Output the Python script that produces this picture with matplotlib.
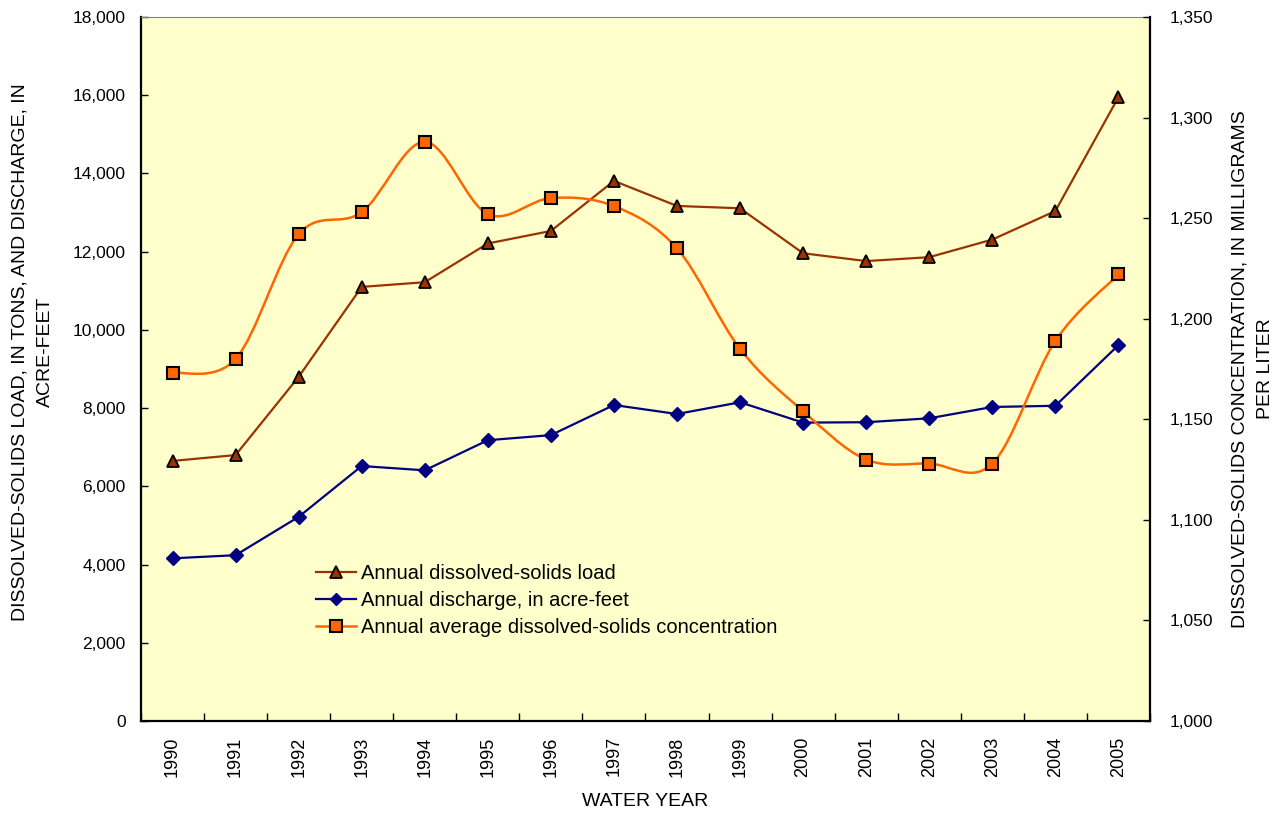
import numpy as np
import matplotlib.pyplot as plt
from matplotlib.path import Path
from matplotlib.patches import PathPatch
from matplotlib.lines import Line2D
from matplotlib.ticker import FuncFormatter

years = [1990, 1991, 1992, 1993, 1994, 1995, 1996, 1997,
         1998, 1999, 2000, 2001, 2002, 2003, 2004, 2005]
# tons per year
load = [6650, 6800, 8800, 11100, 11220, 12210, 12530, 13810,
        13170, 13110, 11960, 11760, 11860, 12310, 13040, 15950]
# acre-feet
discharge = [4160, 4240, 5220, 6520, 6410, 7180, 7310, 8080,
             7850, 8150, 7630, 7640, 7740, 8030, 8060, 9610]
# mg/L
concentration = [1173, 1180, 1242, 1253, 1288, 1252, 1260, 1256,
                 1235, 1185, 1154, 1130, 1128, 1128, 1189, 1222]

LOAD_COLOR = '#993300'
Q_COLOR = '#000080'
CONC_COLOR = '#FF6600'

plt.rcParams['font.family'] = ['Liberation Sans', 'DejaVu Sans']


def smooth_path(x, y):
    # Catmull-Rom style bezier through the points, like a spreadsheet "smoothed line"
    pts = np.column_stack([x, y]).astype(float)
    ext = np.vstack([pts[0], pts, pts[-1]])
    verts = [pts[0]]
    codes = [Path.MOVETO]
    for i in range(len(pts) - 1):
        p0, p1, p2, p3 = ext[i], ext[i + 1], ext[i + 2], ext[i + 3]
        verts += [p1 + (p2 - p0) / 6, p2 - (p3 - p1) / 6, p2]
        codes += [Path.CURVE4] * 3
    return Path(verts, codes)


fig = plt.figure(figsize=(12.84, 8.15), dpi=100)
ax = fig.add_axes([0.1098, 0.1153, 0.7858, 0.8638])
ax.set_facecolor('#FFFFCC')
ax2 = ax.twinx()

x = np.arange(len(years))

ax.plot(x, load, color=LOAD_COLOR, lw=1.6, marker='^', ms=9,
        mfc=LOAD_COLOR, mec='black', mew=1.3, zorder=3)
ax.plot(x, discharge, color=Q_COLOR, lw=1.6, marker='D', ms=7,
        mfc=Q_COLOR, mec=Q_COLOR, zorder=3)

ax2.add_patch(PathPatch(smooth_path(x, concentration), fill=False,
                        edgecolor=CONC_COLOR, lw=1.8, zorder=2))
ax2.plot(x, concentration, ls='none', marker='s', ms=8.5,
         mfc=CONC_COLOR, mec='black', mew=1.5, zorder=3)

ax.set_xlim(-0.5, len(years) - 0.5)
ax.set_ylim(0, 18000)
ax2.set_ylim(1000, 1350)

ax.set_yticks(np.arange(0, 18001, 2000))
ax2.set_yticks(np.arange(1000, 1351, 50))
ax.yaxis.set_major_formatter(FuncFormatter(lambda v, p: f'{int(v):,}'))
ax2.yaxis.set_major_formatter(FuncFormatter(lambda v, p: f'{int(v):,}'))

ax.set_xticks(x)
ax.set_xticklabels([str(y) for y in years], rotation=90, fontsize=13)
ax.set_xticks(np.arange(-0.5, len(years), 1), minor=True)
ax.tick_params(axis='x', which='major', length=0, pad=11)
ax.tick_params(axis='x', which='minor', direction='in', length=6, width=1)
ax.tick_params(axis='y', direction='in', length=5, width=1, labelsize=12.5, pad=11)
ax2.tick_params(axis='y', direction='in', length=5, width=1, labelsize=12.5, pad=14)

for side in ['left', 'bottom']:
    ax.spines[side].set_linewidth(1.6)
    ax.spines[side].set_color('black')
ax.spines['top'].set_color('#808080')
ax2.spines['top'].set_visible(False)
ax2.spines['left'].set_visible(False)
ax2.spines['bottom'].set_visible(False)
ax2.spines['right'].set_linewidth(1.6)
ax.spines['right'].set_visible(False)

ax.set_xlabel('WATER YEAR', fontsize=14, labelpad=12)
ax.set_ylabel('DISSOLVED-SOLIDS LOAD, IN TONS, AND DISCHARGE, IN\nACRE-FEET',
              fontsize=14, linespacing=1.65)
ax.yaxis.set_label_coords(-0.086, 0.524)
ax2.set_ylabel('DISSOLVED-SOLIDS CONCENTRATION, IN MILLIGRAMS\nPER LITER',
               fontsize=14, labelpad=13, linespacing=1.65)

handles = [
    Line2D([], [], color=LOAD_COLOR, lw=1.6, marker='^', ms=8,
           mfc=LOAD_COLOR, mec='black', mew=1.3),
    Line2D([], [], color=Q_COLOR, lw=1.6, marker='D', ms=6,
           mfc=Q_COLOR, mec=Q_COLOR),
    Line2D([], [], color=CONC_COLOR, lw=1.8, marker='s', ms=8,
           mfc=CONC_COLOR, mec='black', mew=1.5),
]
labels = ['Annual dissolved-solids load',
          'Annual discharge, in acre-feet',
          'Annual average dissolved-solids concentration']
ax2.legend(handles, labels, loc='upper left', bbox_to_anchor=(0.1656, 0.235),
           frameon=False, fontsize=14.5, handlelength=2.0, handletextpad=0.25,
           labelspacing=0.4, borderaxespad=0)

fig.savefig('out.png', dpi=100)
